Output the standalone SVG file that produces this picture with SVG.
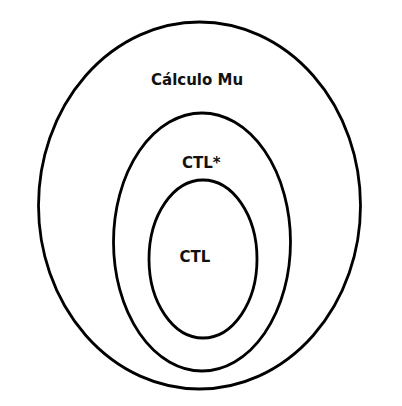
<svg xmlns="http://www.w3.org/2000/svg" width="402" height="406" viewBox="0 0 402 406">
<style>
.e{fill:none;stroke:#000;stroke-width:2.8}
.t{font-family:"DejaVu Sans",sans-serif;font-weight:bold;font-size:15px;fill:#111}
</style>
<rect width="402" height="406" fill="#fff"/>
<g id="mu"><ellipse class="e" cx="199.5" cy="205.5" rx="161" ry="183.5"/><text class="t" x="151" y="85">Cálculo Mu</text></g>
<g id="ctlstar"><ellipse class="e" cx="202" cy="242" rx="88.5" ry="129"/><text class="t" x="182" y="168">CTL*</text></g>
<g id="ctl"><ellipse class="e" cx="203" cy="259" rx="54" ry="79"/><text class="t" x="179.5" y="262">CTL</text></g>
<g id="connectors"/>
</svg>
